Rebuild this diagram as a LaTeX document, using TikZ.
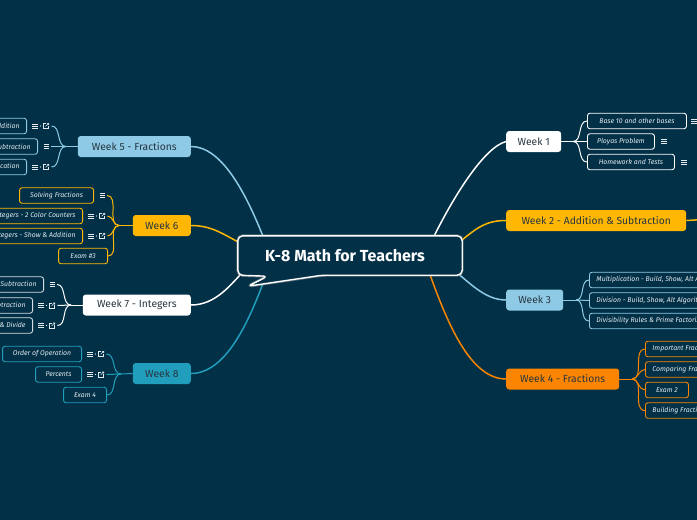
\documentclass[tikz,border=0pt]{standalone}
\usepackage{fontspec}
\setmainfont{Fira Sans}
\usetikzlibrary{positioning}

\definecolor{bgblue}{HTML}{023047}
\definecolor{skyblue}{HTML}{8ECAE6}
\definecolor{tealblue}{HTML}{219EBC}
\definecolor{amber}{HTML}{FFB703}
\definecolor{tangerine}{HTML}{FB8500}
\definecolor{inkdark}{HTML}{283640}
\definecolor{leaftext}{HTML}{E4EBEF}
\definecolor{softwhite}{HTML}{D6DDE2}

\tikzset{
  week/.style={rounded corners=3pt, minimum height=21pt, inner sep=0pt, text=inkdark, font=\fontsize{10.3}{12}\selectfont},
  leaf/.style={draw, rounded corners=2.5pt, line width=0.9pt, fill=bgblue, minimum height=15.5pt, inner xsep=7pt, inner ysep=0pt, text=leaftext, font=\fontsize{6.9}{8}\selectfont\itshape},
  branch/.style={line width=1.5pt},
  twig/.style={line width=1pt},
  bubble/.style={draw=white, line width=1.4pt, fill=bgblue, rounded corners=5pt},
  iconline/.style={line width=0.6pt, draw=leaftext},
  notesicon/.pic={\draw[iconline] (-2.8,-2.2) -- (2.8,-2.2) (-2.8,0) -- (2.8,0) (-2.8,2.2) -- (2.8,2.2);},
  linkicon/.pic={\draw[iconline] (0.3,-2.7) -- (-2.7,-2.7) -- (-2.7,2.7) -- (2.7,2.7) -- (2.7,-0.3);
                 \draw[iconline] (-0.3,0.3) -- (2.7,-2.7) (1,-2.7) -- (2.7,-2.7) -- (2.7,-1);},
  sepdot/.pic={\fill[leaftext] (0,0) circle (0.7);}
}

% icons after a leaf: notes only / notes + link
\newcommand{\notesonly}[1]{\pic at ([xshift=8.5pt]#1.east) {notesicon}; \coordinate (#1e) at ([xshift=13pt]#1.east);}
\newcommand{\noteslink}[1]{\pic at ([xshift=8pt]#1.east) {notesicon}; \pic at ([xshift=13.5pt]#1.east) {sepdot}; \pic at ([xshift=19pt]#1.east) {linkicon}; \coordinate (#1e) at ([xshift=24.5pt]#1.east);}

\begin{document}
\begin{tikzpicture}[x=1pt, y=-1pt]
\useasboundingbox (0,0) rectangle (697,520);
\fill[bgblue] (0,0) rectangle (697,520);
\clip (0,0) rectangle (697,520);

% Central topic
\node[minimum width=224pt, minimum height=39pt, text=white, font=\fontsize{16}{19}\selectfont\bfseries] (root) at (350,255.5) {};

% Main topics (right)
\node[week, fill=white, minimum width=55pt, anchor=west] (w1) at (506,141.5) {Week 1};
\node[week, fill=amber, minimum width=180pt, anchor=west] (w2) at (506,220.5) {Week 2 - Addition \& Subtraction};
\node[week, fill=skyblue, minimum width=57pt, anchor=west] (w3) at (506,300) {Week 3};
\node[week, fill=tangerine, minimum width=113pt, anchor=west] (w4) at (506,379) {Week 4 - Fractions};

% Main topics (left)
\node[week, fill=skyblue, minimum width=113pt, anchor=east] (w5) at (191,146.5) {Week 5 - Fractions};
\node[week, fill=amber, minimum width=58pt, anchor=east] (w6) at (191,225.5) {Week 6};
\node[week, fill=white, minimum width=108pt, anchor=east] (w7) at (191,305) {Week 7 - Integers};
\node[week, fill=tealblue, minimum width=58pt, anchor=east] (w8) at (191,373.5) {Week 8};

% Branches from the centre
\draw[branch, white] ([xshift=-28pt]root.north east) .. controls +(20,-40) and +(-22,6) .. (w1.west);
\draw[branch, amber] ([yshift=-4pt]root.north east) .. controls +(15,-12) and +(-20,0) .. (w2.west);
\draw[branch, skyblue] ([xshift=-6pt,yshift=3pt]root.south east) .. controls +(15,12) and +(-20,0) .. (w3.west);
\draw[branch, tangerine] ([xshift=-32pt]root.south east) .. controls +(18,50) and +(-35,0) .. (w4.west);
\draw[branch, skyblue] (w5.east) .. controls +(30,0) and +(-18,-45) .. ([xshift=25pt]root.north west);
\draw[branch, amber] (w6.east) .. controls +(20,0) and +(-15,-8) .. ([yshift=-6pt]root.north west);
\draw[branch, white] (w7.east) .. controls +(25,0) and +(-12,12) .. ([xshift=5pt,yshift=3pt]root.south west);
\draw[branch, tealblue] (w8.east) .. controls +(35,0) and +(-15,40) .. ([xshift=26pt,yshift=-6pt]root.south west);

% Speech bubble round the central topic
\draw[bubble, draw=gray!70, line width=3pt, opacity=0.5] (root.north west) -- (root.north east) -- (root.south east) -- ([xshift=-140pt]root.south east) -- ([xshift=10pt,yshift=-11pt]root.south west) -- ([xshift=30pt,yshift=-1pt]root.south west) -- (root.south west) -- cycle;
\draw[bubble] (root.north west) -- (root.north east) -- (root.south east) -- ([xshift=-140pt]root.south east) -- ([xshift=10pt,yshift=-11pt]root.south west) -- ([xshift=30pt,yshift=-1pt]root.south west) -- (root.south west) -- cycle;
\node[text=white, font=\fontsize{16}{19}\selectfont\bfseries] (title) at ([xshift=-5pt]root.center) {K-8 Math for Teachers};

% Week 1 subtopics
\coordinate (w1j) at (573,141.5);
\node[leaf, draw=white, minimum width=99pt, anchor=west] (c11) at (587,121) {Base 10 and other bases};
\node[leaf, draw=white, minimum width=67pt, anchor=west] (c12) at (587,141.5) {Ployas Problem};
\node[leaf, draw=white, minimum width=87pt, anchor=west] (c13) at (587,162) {Homework and Tests};
\pic at ([xshift=7pt]c11.east) {notesicon};
\pic at ([xshift=9pt]c12.east) {notesicon};
\pic at ([xshift=9pt]c13.east) {notesicon};
\draw[twig, white] (w1.east) -- (w1j);
\draw[twig, white] (w1j) to[out=0, in=180] (c11.west);
\draw[twig, white] (w1j) -- (c12.west);
\draw[twig, white] (w1j) to[out=0, in=180] (c13.west);

% Week 2 (subtopics off the page)
\coordinate (w2j) at (712,219);
\draw[branch, amber] (w2.east) -- (w2j);

% Week 3 subtopics
\coordinate (w3j) at (576,300);
\node[leaf, draw=skyblue, anchor=west] (c31) at (589,280) {Multiplication - Build, Show, Alt Algorithms};
\node[leaf, draw=skyblue, anchor=west] (c32) at (589,300.5) {Division - Build, Show, Alt Algorithms};
\node[leaf, draw=skyblue, anchor=west] (c33) at (589,321) {Divisibility Rules \& Prime Factorization};
\draw[twig, skyblue] (w3.east) -- (w3j);
\draw[twig, skyblue] (w3j) to[out=0, in=180] (c31.west);
\draw[twig, skyblue] (w3j) -- (c32.west);
\draw[twig, skyblue] (w3j) to[out=0, in=180] (c33.west);

% Week 4 subtopics
\coordinate (w4j) at (632,379);
\node[leaf, draw=tangerine, anchor=west] (c41) at (645,349) {Important Fraction Concepts};
\node[leaf, draw=tangerine, anchor=west] (c42) at (645,369.5) {Comparing Fractions};
\node[leaf, draw=tangerine, minimum width=43pt, anchor=west] (c43) at (645,390) {Exam 2};
\node[leaf, draw=tangerine, anchor=west] (c44) at (645,410.5) {Building Fractions};
\draw[twig, tangerine] (w4.east) -- (w4j);
\draw[twig, tangerine] (w4j) to[out=0, in=180] (c41.west);
\draw[twig, tangerine] (w4j) to[out=0, in=180] (c42.west);
\draw[twig, tangerine] (w4j) to[out=0, in=180] (c43.west);
\draw[twig, tangerine] (w4j) to[out=0, in=180] (c44.west);

% Week 5 subtopics
\coordinate (w5j) at (66,146.5);
\node[leaf, draw=skyblue, anchor=east] (c51) at (27,126) {Fractions - Addition};
\node[leaf, draw=skyblue, anchor=east] (c52) at (38,146.5) {Fractions - Subtraction};
\node[leaf, draw=skyblue, anchor=east] (c53) at (27,167) {Fractions - Multiplication};
\noteslink{c51}
\notesonly{c52}
\noteslink{c53}
\draw[twig, skyblue] (c51e) to[out=0, in=180] (w5j);
\draw[twig, skyblue] (c52e) -- (w5j);
\draw[twig, skyblue] (c53e) to[out=0, in=180] (w5j);
\draw[twig, skyblue] (w5j) -- (w5.west);

% Week 6 subtopics
\coordinate (w6j) at (119,225.5);
\node[leaf, draw=amber, minimum width=74pt, anchor=east] (c61) at (94,195.5) {Solving Fractions};
\node[leaf, draw=amber, anchor=east] (c62) at (83,216) {Integers - 2 Color Counters};
\node[leaf, draw=amber, anchor=east] (c63) at (83,236) {Integers - Show \& Addition};
\node[leaf, draw=amber, minimum width=49pt, anchor=east] (c64) at (108,256) {Exam \#3};
\notesonly{c61}
\noteslink{c62}
\noteslink{c63}
\draw[twig, amber] (c61e) to[out=0, in=180] (w6j);
\draw[twig, amber] (c62e) to[out=0, in=180] (w6j);
\draw[twig, amber] (c63e) to[out=0, in=180] (w6j);
\draw[twig, amber] (c64.east) to[out=0, in=180] (w6j);
\draw[twig, amber] (w6j) -- (w6.west);

% Week 7 subtopics
\coordinate (w7j) at (71,305);
\node[leaf, draw=softwhite, anchor=east] (c71) at (44,284.5) {Integers - Addition \& Subtraction};
\node[leaf, draw=softwhite, anchor=east] (c72) at (33,305.5) {Integers - Show Subtraction};
\node[leaf, draw=softwhite, anchor=east] (c73) at (33,325.5) {Integers - Multiply \& Divide};
\notesonly{c71}
\noteslink{c72}
\noteslink{c73}
\draw[twig, white] (c71e) to[out=0, in=180] (w7j);
\draw[twig, white] (c72e) -- (w7j);
\draw[twig, white] (c73e) to[out=0, in=180] (w7j);
\draw[twig, white] (w7j) -- (w7.west);

% Week 8 subtopics
\coordinate (w8j) at (121,374);
\node[leaf, draw=tealblue, minimum width=79pt, anchor=east] (c81) at (82,354) {Order of Operation};
\node[leaf, draw=tealblue, minimum width=46pt, anchor=east] (c82) at (82,374.5) {Percents};
\node[leaf, draw=tealblue, minimum width=43pt, anchor=east] (c83) at (107,395) {Exam 4};
\noteslink{c81}
\noteslink{c82}
\draw[twig, tealblue] (c81e) to[out=0, in=180] (w8j);
\draw[twig, tealblue] (c82e) -- (w8j);
\draw[twig, tealblue] (c83.east) to[out=0, in=180] (w8j);
\draw[twig, tealblue] (w8j) -- (w8.west);
\end{tikzpicture}
\end{document}
